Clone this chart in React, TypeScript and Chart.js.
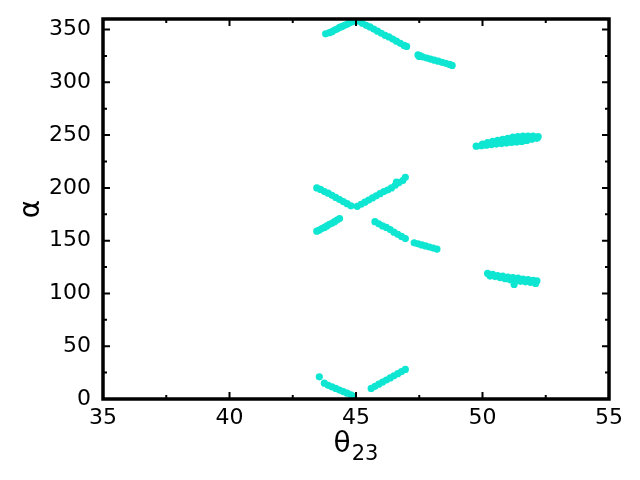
import React, { useEffect, useRef } from "react";
import { Chart, registerables } from "chart.js";

Chart.register(...registerables);

// ---- Data (θ23 in degrees, α in degrees) ----
const theta1 = [43.8, 43.95, 44.05, 44.15, 44.25, 44.35, 44.45, 44.55, 44.65, 44.75, 44.85, 44.95];
const alpha1 = [346, 347, 348, 349.5, 350.5, 352, 353, 354, 355, 356.5, 357.5, 359];

const theta2 = [45.1, 45.25, 45.4, 45.55, 45.7, 45.85, 46.0, 46.15, 46.3, 46.45, 46.6, 46.75, 46.9, 47.0];
const alpha2 = [358, 356, 354, 352.5, 350.5, 348.5, 346.5, 344.5, 343, 341, 339, 337, 335, 334];

const theta3 = [47.45, 47.5, 47.55, 47.65, 47.8, 47.95, 48.1, 48.25, 48.4, 48.55, 48.7, 48.8];
const alpha3 = [326, 324.5, 325, 324, 323, 322, 321, 320, 319, 318, 317, 316];

const theta4 = [43.45, 43.6, 43.75, 43.9, 44.05, 44.2, 44.35, 44.5, 44.65, 44.8];
const alpha4 = [200, 198.5, 196.5, 195, 193, 191, 189, 187, 185, 183];

const theta5 = [45.05, 45.2, 45.35, 45.5, 45.65, 45.8, 45.95, 46.1, 46.25, 46.4, 46.55, 46.7, 46.85, 46.95, 46.6];
const alpha5 = [182.5, 184.5, 186.5, 188.5, 190.5, 192.5, 194.5, 196.5, 198, 200, 202.5, 205, 207, 210, 205.5];

const theta6 = [43.45, 43.55, 43.65, 43.75, 43.85, 43.95, 44.05, 44.15, 44.25, 44.35];
const alpha6 = [159, 160, 161.5, 162.5, 164, 165.5, 166.5, 168, 169.5, 171];

const theta7 = [45.75, 45.9, 46.05, 46.2, 46.35, 46.5, 46.65, 46.8, 46.95];
const alpha7 = [168, 166, 164, 162.5, 160.5, 158, 156, 154, 152];

const theta8 = [47.3, 47.45, 47.6, 47.75, 47.9, 48.05, 48.2];
const alpha8 = [148, 147, 146, 145, 144, 143, 142];

const theta9 = [
  49.75, 49.95, 50.15, 50.35, 50.55, 50.75, 50.95, 51.15, 51.35, 51.55, 51.75, 51.95, 52.15,
  50.2, 50.4, 50.6, 50.8, 51.0, 51.2, 51.4, 51.6, 51.8, 52.0, 52.2,
  50.0, 50.5, 51.0, 51.5, 51.9,
];
const alpha9 = [
  239.5, 240, 240.5, 241, 241.5, 242, 242.5, 243, 243.5, 244, 245, 246, 247,
  243, 244, 245, 246, 247, 248, 248.5, 249, 249, 249, 248.5,
  241.5, 243.5, 245, 246.5, 247.5,
];

const theta10 = [
  50.2, 50.4, 50.6, 50.8, 51.0, 51.2, 51.4, 51.6, 51.8, 52.0, 52.15,
  50.3, 50.5, 50.7, 50.9, 51.1, 51.3, 51.5, 51.7, 51.9, 52.1,
  51.25,
];
const alpha10 = [
  119, 118, 117, 116.5, 115.5, 115, 114.5, 113.5, 113, 112.5, 112,
  116.5, 116, 115, 114, 113, 112, 111.5, 111, 110.5, 109.5,
  108.5,
];

const theta11 = [43.55, 43.75, 43.9, 44.05, 44.2, 44.35, 44.5, 44.65, 44.8, 44.9];
const alpha11 = [21, 15, 13, 11.5, 10, 8.5, 7, 5.5, 4, 2.5];

const theta12 = [45.6, 45.75, 45.9, 46.05, 46.2, 46.35, 46.5, 46.65, 46.8, 46.95];
const alpha12 = [10, 12, 14, 16, 18, 20, 22, 24, 26, 28];

const thetaSets = [theta1, theta2, theta3, theta4, theta5, theta6, theta7, theta8, theta9, theta10, theta11, theta12];
const alphaSets = [alpha1, alpha2, alpha3, alpha4, alpha5, alpha6, alpha7, alpha8, alpha9, alpha10, alpha11, alpha12];

// ---- Axes ----
const xMajorTicks = [35, 40, 45, 50, 55];
const xMinorTicks = [37.5, 42.5, 47.5, 52.5];
const yMajorTicks = [0, 50, 100, 150, 200, 250, 300, 350];
const yMinorTicks = [25, 75, 125, 175, 225, 275, 325];
const xTitleMain = "θ";
const xTitleSub = "23";
const yTitle = "α";

const POINT_COLOR = "rgb(14, 230, 210)";
const FONT = '"DejaVu Sans", sans-serif';

const framePlugin = {
  id: "frameTicks",
  afterDatasetsDraw(chart: any) {
    const { ctx, chartArea, scales } = chart;
    const { left, right, top, bottom } = chartArea;
    const x = scales.x;
    const y = scales.y;
    ctx.save();
    ctx.strokeStyle = "#000";
    ctx.lineWidth = 2;
    const drawX = (vals: number[], len: number) => {
      vals.forEach((v) => {
        const px = x.getPixelForValue(v);
        ctx.beginPath();
        ctx.moveTo(px, bottom);
        ctx.lineTo(px, bottom - len);
        ctx.moveTo(px, top);
        ctx.lineTo(px, top + len);
        ctx.stroke();
      });
    };
    const drawY = (vals: number[], len: number) => {
      vals.forEach((v) => {
        const py = y.getPixelForValue(v);
        ctx.beginPath();
        ctx.moveTo(left, py);
        ctx.lineTo(left + len, py);
        ctx.moveTo(right, py);
        ctx.lineTo(right - len, py);
        ctx.stroke();
      });
    };
    drawX(xMajorTicks, 7);
    drawX(xMinorTicks, 4);
    drawY(yMajorTicks, 7);
    drawY(yMinorTicks, 4);
    ctx.lineWidth = 3.5;
    ctx.strokeRect(left, top, right - left, bottom - top);

    // x-axis title with subscript
    ctx.fillStyle = "#000";
    ctx.textBaseline = "alphabetic";
    ctx.textAlign = "left";
    ctx.font = `28px ${FONT}`;
    const wMain = ctx.measureText(xTitleMain).width;
    ctx.font = `21px ${FONT}`;
    const wSub = ctx.measureText(xTitleSub).width;
    const cx = (left + right) / 2;
    const startX = cx - (wMain + wSub + 1) / 2;
    ctx.font = `28px ${FONT}`;
    ctx.fillText(xTitleMain, startX, bottom + 53);
    ctx.font = `21px ${FONT}`;
    ctx.fillText(xTitleSub, startX + wMain + 1, bottom + 61);
    ctx.restore();
  },
};

export default function App() {
  const canvasRef = useRef<HTMLCanvasElement | null>(null);

  useEffect(() => {
    document.body.style.margin = "0";
    const canvas = canvasRef.current;
    if (!canvas) return;
    const datasets = thetaSets.map((ts, i) => ({
      data: ts.map((t, j) => ({ x: t, y: alphaSets[i][j] })),
      backgroundColor: POINT_COLOR,
      borderColor: POINT_COLOR,
      borderWidth: 0,
      pointRadius: 3.6,
      pointHoverRadius: 3.6,
    }));
    const chart = new Chart(canvas, {
      type: "scatter",
      data: { datasets },
      plugins: [framePlugin],
      options: {
        animation: false,
        responsive: false,
        devicePixelRatio: 1,
        layout: { padding: { top: 19, right: 31, left: 0, bottom: 0 } },
        plugins: { legend: { display: false }, tooltip: { enabled: false } },
        scales: {
          x: {
            type: "linear",
            min: 35,
            max: 55,
            border: { display: false },
            grid: { display: false, drawTicks: false },
            afterBuildTicks: (scale: any) => {
              scale.ticks = xMajorTicks.map((v) => ({ value: v }));
            },
            afterFit: (scale: any) => {
              scale.height = 81;
            },
            ticks: {
              color: "#000",
              padding: 6,
              font: { family: FONT, size: 22 },
              maxRotation: 0,
            },
          },
          y: {
            type: "linear",
            min: 0,
            max: 360,
            border: { display: false },
            grid: { display: false, drawTicks: false },
            afterBuildTicks: (scale: any) => {
              scale.ticks = yMajorTicks.map((v) => ({ value: v }));
            },
            afterFit: (scale: any) => {
              scale.width = 103;
              scale.paddingTop = 0;
              scale.paddingBottom = 0;
            },
            title: {
              display: true,
              text: yTitle,
              color: "#000",
              font: { family: FONT, size: 28 },
              padding: { top: 15, bottom: 0 },
            },
            ticks: {
              color: "#000",
              padding: 12,
              font: { family: FONT, size: 22 },
            },
          },
        },
      },
    });
    return () => chart.destroy();
  }, []);

  return (
    <div style={{ width: 640, height: 480, position: "relative" }}>
      <canvas ref={canvasRef} width={640} height={480} style={{ display: "block", width: 640, height: 480 }} />
    </div>
  );
}
